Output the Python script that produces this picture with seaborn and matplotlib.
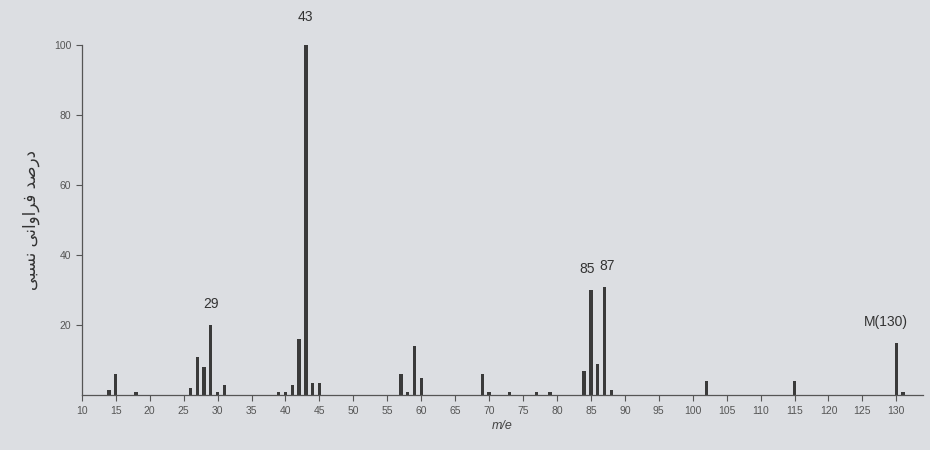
import matplotlib
matplotlib.use("Agg")
import matplotlib.pyplot as plt
import seaborn as sns
import pandas as pd

# m/z values and relative abundances (%)
mz = [14, 15, 18, 26, 27, 28, 29, 30, 31, 39, 40, 41, 42, 43, 44, 45,
      57, 58, 59, 60, 69, 70, 73, 77, 79, 84, 85, 86, 87, 88, 102, 115, 130, 131]
abundance = [1.5, 6, 1, 2, 11, 8, 20, 1, 3, 1, 1, 3, 16, 100, 3.5, 3.5,
             6, 1, 14, 5, 6, 1, 1, 1, 1, 7, 30, 9, 31, 1.5, 4, 4, 15, 1]

# label text, peak m/z, horizontal nudge (in m/z units)
peak_labels = [("29", 29, 0.0), ("43", 43, 0.0), ("85", 85, -0.6),
               ("87", 87, 0.4), ("M(130)", 130, -1.6)]
x_ticks = list(range(10, 131, 5))
y_ticks = [20, 40, 60, 80, 100]

# Persian y label "درصد فراوانی نسبی" written in shaped, visual order
ylabel = "\ufef0\ufe92\ufeb4\ufee7 \ufef0\ufee7\ufe8d\ufeed\ufe8d\ufeae\ufed3 \ufeaa\ufebb\ufead\ufea9"

bg = "#dcdee2"
ink = "#3a3a3a"

sns.set_theme(style="ticks")
plt.rcParams["font.family"] = ["Liberation Sans", "DejaVu Sans"]

df = pd.DataFrame({"mz": mz, "abundance": abundance})

fig = plt.figure(figsize=(9.3, 4.5), dpi=100, facecolor=bg)
ax = fig.add_axes([0.088, 0.122, 0.905, 0.778])
ax.set_facecolor(bg)

sns.barplot(data=df, x="mz", y="abundance", native_scale=True, width=0.5,
            color=ink, saturation=1, ax=ax, linewidth=0)

ax.set_xlim(10, 134)
ax.set_ylim(0, 100)
ax.set_xticks(x_ticks)
ax.set_xticklabels([str(t) for t in x_ticks])
ax.set_yticks(y_ticks)
ax.set_yticklabels([str(t) for t in y_ticks])
ax.tick_params(axis="both", labelsize=7.5, colors="#555555", length=4, width=0.8)
for s in ["top", "right"]:
    ax.spines[s].set_visible(False)
for s in ["left", "bottom"]:
    ax.spines[s].set_color("#555555")
    ax.spines[s].set_linewidth(0.9)

ax.set_xlabel("m/e", fontsize=9, style="italic", color="#444444", labelpad=3)
ax.set_ylabel(ylabel, fontsize=12, color="#333333", labelpad=10,
              family=["DejaVu Sans"])

for txt, m, dx in peak_labels:
    val = abundance[mz.index(m)]
    off = 6 if m == 43 else 4
    ax.text(m + dx, val + off, txt, ha="center", va="bottom", fontsize=10,
            color="#333333", clip_on=False)

fig.savefig("out.png", dpi=100, facecolor=bg)
